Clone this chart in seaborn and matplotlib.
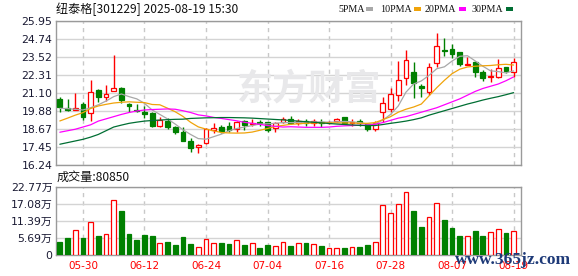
import matplotlib
matplotlib.use("Agg")
import matplotlib.pyplot as plt
import seaborn as sns
import numpy as np
from matplotlib.patches import Rectangle

# ---------------- data ----------------
dates = ["05-27", "05-28", "05-29", "05-30", "06-03", "06-04", "06-05", "06-06", "06-09", "06-10",
         "06-11", "06-12", "06-13", "06-16", "06-17", "06-18", "06-19", "06-20", "06-23", "06-24",
         "06-25", "06-26", "06-27", "06-30", "07-01", "07-02", "07-03", "07-04", "07-07", "07-08",
         "07-09", "07-10", "07-11", "07-14", "07-15", "07-16", "07-17", "07-18", "07-21", "07-22",
         "07-23", "07-24", "07-25", "07-28", "07-29", "07-30", "07-31", "08-01", "08-04", "08-05",
         "08-06", "08-07", "08-08", "08-11", "08-12", "08-13", "08-14", "08-15", "08-18", "08-19"]

opens = [20.67, 20.09, 19.95, 20.33, 19.73, 21.30, 20.80, 21.21, 21.43, 20.35,
         19.95, 19.84, 19.73, 18.90, 19.21, 18.78, 18.49, 17.86, 17.43, 17.70,
         18.60, 18.83, 18.90, 18.65, 19.21, 19.00, 19.12, 19.12, 18.72, 19.14,
         19.34, 19.10, 19.23, 19.05, 19.17, 19.10, 19.23, 19.46, 19.05, 19.23,
         18.99, 18.65, 19.84, 19.99, 20.96, 22.09, 22.49, 21.57, 21.19, 23.10,
         24.02, 24.06, 23.84, 23.01, 23.16, 22.49, 22.20, 22.20, 22.83, 22.53]
closes = [20.18, 19.95, 20.09, 19.50, 21.14, 20.85, 21.03, 21.41, 20.62, 20.22,
          19.91, 19.68, 18.87, 19.28, 18.83, 18.49, 17.88, 17.41, 17.57, 18.67,
          18.74, 18.53, 18.60, 19.17, 18.94, 19.08, 19.05, 18.60, 19.05, 19.34,
          19.05, 19.21, 19.05, 19.21, 19.10, 19.14, 19.32, 19.10, 19.14, 19.10,
          18.65, 19.05, 20.40, 21.03, 21.97, 23.32, 21.79, 21.43, 22.87, 24.26,
          23.95, 23.73, 23.03, 23.06, 22.53, 22.13, 22.26, 22.80, 22.60, 23.21]
highs = [20.85, 20.69, 21.10, 20.51, 21.97, 21.37, 21.63, 23.66, 21.52, 20.40,
         20.35, 20.22, 19.84, 19.50, 19.43, 18.87, 18.78, 18.08, 17.66, 18.72,
         19.05, 18.94, 19.17, 19.23, 19.28, 19.37, 19.28, 19.17, 19.17, 19.50,
         19.55, 19.32, 19.32, 19.34, 19.32, 19.23, 19.39, 19.50, 19.34, 19.32,
         19.05, 19.21, 20.85, 21.41, 23.27, 24.00, 23.21, 21.70, 23.10, 25.16,
         24.78, 24.40, 23.88, 23.54, 23.27, 22.65, 22.69, 23.37, 22.87, 23.43]
lows = [19.84, 19.88, 19.95, 19.28, 19.21, 20.51, 20.58, 21.21, 20.40, 19.84,
        19.84, 19.39, 18.83, 18.78, 18.67, 18.33, 17.84, 17.12, 17.07, 17.68,
        18.38, 18.38, 18.49, 18.49, 18.60, 18.87, 18.87, 18.49, 18.49, 19.05,
        19.01, 18.94, 18.87, 18.87, 18.83, 19.01, 19.17, 19.01, 18.87, 18.87,
        18.56, 18.56, 19.17, 19.84, 20.58, 21.64, 20.73, 20.85, 20.96, 22.83,
        23.61, 23.43, 22.94, 23.01, 22.15, 21.93, 21.86, 22.09, 22.42, 22.20]

# volume in 万 (10k shares)
volumes = [4.44, 5.67, 8.22, 5.67, 11.0, 6.33, 6.89, 18.55, 14.67, 7.0,
           5.0, 6.67, 6.33, 4.0, 4.33, 3.33, 6.0, 3.67, 2.56, 5.22,
           4.0, 4.0, 3.67, 4.89, 3.33, 3.89, 2.33, 3.33, 2.89, 4.22,
           3.0, 3.89, 4.0, 3.56, 3.0, 2.22, 2.22, 2.33, 2.56, 2.67,
           3.33, 4.33, 16.67, 14.0, 17.0, 21.2, 14.67, 9.33, 12.67, 17.55,
           11.67, 9.0, 6.33, 6.22, 8.0, 6.33, 7.67, 8.55, 7.33, 8.085]

ma5 = [20.06, 20.04, 20.00, 19.95, 20.10, 20.30, 20.55, 20.85, 21.03, 20.85,
       20.70, 20.40, 19.95, 19.65, 19.35, 19.00, 18.62, 18.30, 18.02, 17.98,
       18.15, 18.32, 18.55, 18.70, 18.80, 18.90, 19.00, 19.02, 19.05, 19.10,
       19.10, 19.12, 19.12, 19.15, 19.15, 19.12, 19.15, 19.18, 19.15, 19.10,
       19.00, 19.00, 19.27, 19.65, 20.22, 21.15, 21.70, 21.91, 22.28, 22.73,
       22.86, 23.25, 23.57, 23.61, 23.26, 22.90, 22.59, 22.54, 22.45, 22.59]
ma10 = [19.21, 19.40, 19.60, 19.77, 20.05, 20.22, 20.33, 20.42, 20.47, 20.50,
        20.47, 20.45, 20.32, 20.30, 20.07, 19.83, 19.52, 19.12, 18.81, 18.66,
        18.54, 18.43, 18.40, 18.39, 18.40, 18.46, 18.58, 18.70, 18.84, 18.91,
        18.98, 19.02, 19.05, 19.07, 19.08, 19.08, 19.08, 19.08, 19.07, 19.05,
        19.05, 19.10, 19.30, 19.50, 19.80, 20.00, 20.15, 20.35, 20.90, 21.45,
        21.95, 22.40, 22.70, 22.85, 22.90, 22.93, 22.95, 23.00, 23.03, 22.98]
ma20 = [18.45, 18.55, 18.65, 18.80, 18.95, 19.20, 19.35, 19.50, 19.65, 19.78,
        19.88, 19.95, 19.98, 20.00, 20.02, 20.00, 19.90, 19.78, 19.62, 19.55,
        19.45, 19.38, 19.30, 19.22, 19.12, 19.05, 18.98, 18.90, 18.85, 18.80,
        18.82, 18.80, 18.78, 18.78, 18.78, 18.80, 18.85, 18.88, 18.90, 18.92,
        18.93, 18.98, 19.10, 19.25, 19.40, 19.50, 19.65, 19.80, 19.95, 20.10,
        20.30, 20.50, 20.70, 20.95, 21.20, 21.40, 21.55, 21.70, 21.92, 22.18]
ma30 = [17.64, 17.75, 17.86, 17.97, 18.12, 18.30, 18.55, 18.80, 18.93, 19.05,
        19.13, 19.20, 19.24, 19.27, 19.30, 19.32, 19.33, 19.38, 19.40, 19.42,
        19.43, 19.44, 19.44, 19.43, 19.42, 19.40, 19.37, 19.34, 19.31, 19.28,
        19.24, 19.20, 19.16, 19.12, 19.08, 19.04, 19.00, 18.97, 18.94, 18.91,
        18.90, 18.90, 18.97, 19.05, 19.12, 19.20, 19.30, 19.42, 19.60, 19.75,
        19.90, 20.05, 20.20, 20.35, 20.48, 20.62, 20.74, 20.85, 20.98, 21.12]

price_ticks = [16.24, 17.45, 18.67, 19.88, 21.10, 22.31, 23.52, 24.74, 25.95]
vol_ticks = [0, 5.69, 11.39, 17.08, 22.77]
vol_tick_labels = ["0", "5.69万", "11.39万", "17.08万", "22.77万"]
date_ticks = ["05-30", "06-12", "06-24", "07-04", "07-16", "07-28", "08-07", "08-19"]

title_text = "纽泰格[301229] 2025-08-19 15:30"
vol_title = "成交量:80850"
legend_names = ["5PMA", "10PMA", "20PMA", "30PMA"]

# ---------------- style ----------------
UP = "#ff0000"
DOWN = "#008000"
MA_COLORS = ["#a8a8a8", "#f0a30a", "#ff00ff", "#006e33"]
GRID = "#d4d4d4"
SPINE = "#9a9a9a"
TXT = "#1a1a33"

sns.set_style("white")
plt.rcParams["font.family"] = ["DejaVu Sans", "Noto Sans CJK SC"]

W, H = 578, 276
fig = plt.figure(figsize=(W / 100, H / 100), dpi=100)
fig.patch.set_facecolor("white")

L, R = 56, 521
ax = fig.add_axes([L / W, 1 - 165 / H, (R - L) / W, (165 - 21) / H])
axv = fig.add_axes([L / W, 1 - 255 / H, (R - L) / W, (255 - 187) / H])

x = np.arange(len(dates))
o = np.array(opens); c = np.array(closes)
hi = np.array(highs); lo = np.array(lows)
up = c >= o
edge = np.where(up, UP, DOWN)
face = np.where(up, "white", DOWN)
tick_idx = [dates.index(d) for d in date_ticks]

# watermark
fig.text(237 / W, 1 - 89 / H, "东方财富", fontsize=26, fontweight="bold",
         color="#e8e8ea", ha="left", va="center", family=["Noto Sans CJK SC"], zorder=0)

# candles
ax.vlines(x, lo, hi, colors=edge, lw=1.0, zorder=3)
body_h = np.maximum(np.abs(c - o), 0.015)
ax.bar(x, body_h, bottom=np.minimum(o, c), width=0.62, color=list(face),
       edgecolor=list(edge), linewidth=0.9, zorder=4)

# moving averages
for vals, col in zip([ma5, ma10, ma20, ma30], MA_COLORS):
    sns.lineplot(x=x, y=vals, ax=ax, color=col, lw=0.9, legend=False, zorder=5)

# volume
axv.bar(x, volumes, width=0.62, color=list(face), edgecolor=list(edge),
        linewidth=0.9, zorder=3)

for a in (ax, axv):
    a.set_xlim(-0.5, 59.96)
    a.set_xticks(tick_idx)
    a.grid(False)
    a.xaxis.grid(True, color="#c8c8c8", ls=(0, (3, 3)), lw=1.0, zorder=1)
    a.yaxis.grid(True, color=GRID, ls="-", lw=1.0, zorder=1)
    a.set_axisbelow(True)
    for s in a.spines.values():
        s.set_color(SPINE)
        s.set_linewidth(1.0)
    a.tick_params(length=0, pad=2.5, labelsize=7.8, labelcolor=TXT)
    a.set_xlabel("")
    a.set_ylabel("")
    a.patch.set_alpha(0)

ax.set_ylim(16.24, 25.95)
ax.set_yticks(price_ticks)
ax.set_yticklabels([f"{v:.2f}" for v in price_ticks])
ax.tick_params(labelbottom=False)

axv.set_ylim(0, 22.77)
axv.set_yticks(vol_ticks)
axv.set_yticklabels(vol_tick_labels)
axv.set_xticklabels(date_ticks)
axv.tick_params(axis="x", labelcolor="#ff0000", labelsize=7.5, pad=4)

# title texts
fig.text(55.5 / W, 1 - 9 / H, title_text, fontsize=8.7, color="#111111", ha="left",
         va="center", family=["Noto Sans CJK SC", "DejaVu Sans"])
fig.text(57 / W, 1 - 177 / H, vol_title, fontsize=8.7, color="#111111", ha="left",
         va="center", family=["Noto Sans CJK SC", "DejaVu Sans"])

# legend
text_x = [338, 380, 425, 472]
sq_x = [366, 414, 459, 506]
for name, tx, sx, col in zip(legend_names, text_x, sq_x, MA_COLORS):
    fig.text(tx / W, 1 - 9 / H, name, fontsize=7.2, color="#111111", ha="left",
             va="center", family=["Liberation Serif"])
    fig.add_artist(Rectangle((sx / W, 1 - 10.8 / H), 7 / W, 3.6 / H,
                             transform=fig.transFigure, color=col, lw=0))

# site watermark
fig.text(455 / W, 1 - 260 / H, "www.365jz.com", fontsize=12.5, color="#1e3a78",
         ha="left", va="center", family=["Liberation Serif"], fontweight="bold", zorder=10)

fig.savefig("out.png", dpi=100, facecolor="white")
